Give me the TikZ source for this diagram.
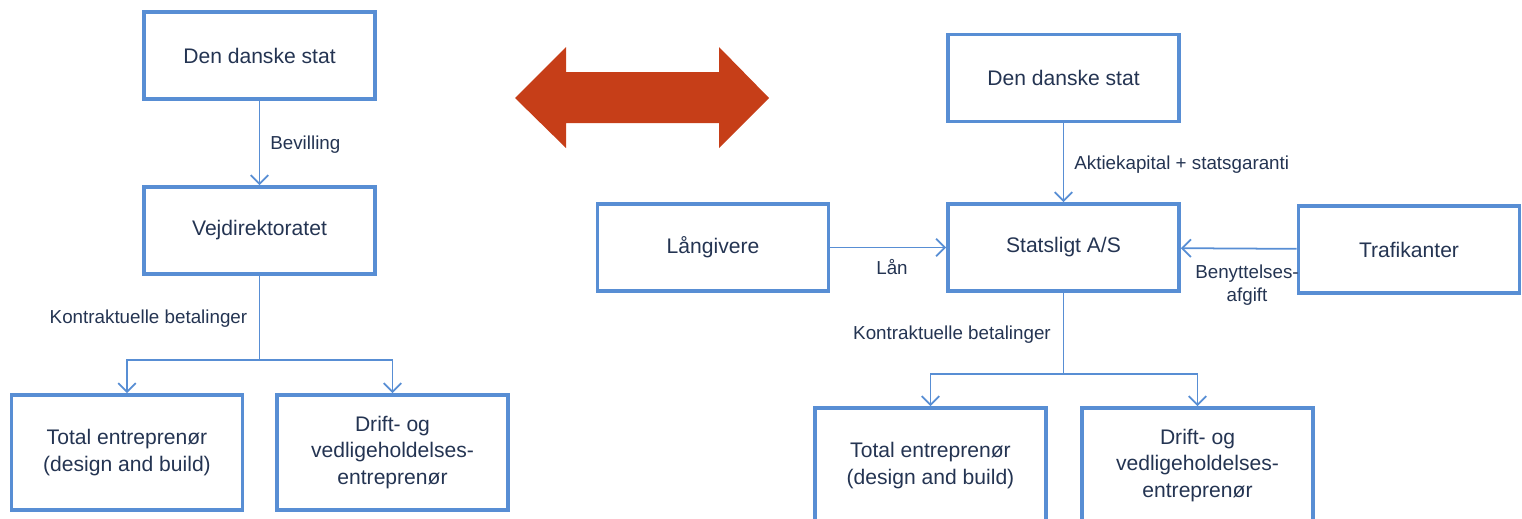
\documentclass[tikz,border=0pt]{standalone}
\usepackage{fontspec}
\setmainfont{Liberation Sans}
\usetikzlibrary{arrows.meta}
\definecolor{boxblue}{RGB}{88,142,212}
\definecolor{navytext}{RGB}{36,52,82}
\definecolor{swapred}{RGB}{198,62,24}

\begin{document}
\begin{tikzpicture}
  [x=0.02cm, y=-0.02cm,
   box/.style={draw=boxblue, line width=2.2pt, text=navytext, align=center,
     inner sep=0pt, minimum width=4.62cm, minimum height=1.74cm,
     font=\fontsize{12}{15}\selectfont},
   tallbox/.style={box, minimum height=2.3cm},
   flowlabel/.style={text=navytext, align=center, inner sep=0pt,
     font=\fontsize{10.7}{13.5}\selectfont},
   flow/.style={draw=boxblue, line width=1pt,
     -{Straight Barb[length=5pt,width=10pt,line width=1pt]}}]
  \useasboundingbox (0,0) rectangle (1522,518);
  \clip (0,0) rectangle (1522,518);

  % left: today
  \node[box] (stat1) at (259.5, 55.5) {Den danske stat};
  \node[box] (vej) at (259.5, 230.5) {Vejdirektoratet};
  \node[tallbox] (total1) at (127, 452.5) {Total entreprenør\\(design and build)};
  \node[tallbox] (drift1) at (392.5, 452.5) {Drift- og\\vedligeholdelses-\\entreprenør};
  \coordinate (split1) at (259.5, 360);

  \node[flowlabel, anchor=west] (bev) at (270, 145) {Bevilling};
  \node[flowlabel] (kon1) at (148.5, 319) {Kontraktuelle betalinger};

  \draw[flow] (stat1) -- (vej);
  \draw[boxblue, line width=1pt] (vej) -- (split1);
  \foreach \to in {total1,drift1}
  \draw[flow] (split1) -| (\to);

  % swap arrow
  \fill[swapred] (515,98) -- (566,47) -- (566,72) -- (719,72) -- (719,47)
    -- (769,98) -- (719,148) -- (719,123) -- (566,123) -- (566,148) -- cycle;

  % right: company model
  \node[box] (stat2) at (1063.5, 78) {Den danske stat};
  \node[box] (as) at (1063.5, 247.5) {Statsligt A/S};
  \node[box] (laan) at (713, 247.5) {Långivere};
  \node[box, minimum width=4.42cm] (traf) at (1409, 249.5) {Trafikanter};
  \node[tallbox] (total2) at (930.5, 465.5) {Total entreprenør\\(design and build)};
  \node[tallbox] (drift2) at (1197.5, 465.5) {Drift- og\\vedligeholdelses-\\entreprenør};
  \coordinate (split2) at (1063.5, 374);

  \node[flowlabel, anchor=west] (akt) at (1074, 165) {Aktiekapital + statsgaranti};
  \node[flowlabel] (lan) at (892, 267) {Lån};
  \node[flowlabel] (ben) at (1247, 285) {Benyttelses-\\afgift};
  \node[flowlabel] (kon2) at (952, 335) {Kontraktuelle betalinger};

  \foreach \from/\to in {stat2/as,laan/as,traf/as}
  \draw[flow] (\from) -- (\to);
  \draw[boxblue, line width=1pt] (as) -- (split2);
  \foreach \to in {total2,drift2}
  \draw[flow] (split2) -| (\to);

\end{tikzpicture}
\end{document}
